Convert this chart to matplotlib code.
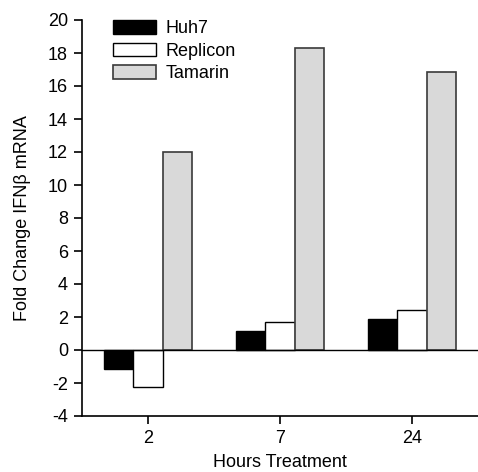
import matplotlib
matplotlib.use("Agg")
import matplotlib.pyplot as plt
import numpy as np

# Data
hours = ["2", "7", "24"]
huh7 = [-1.15, 1.17, 1.86]
replicon = [-2.22, 1.70, 2.44]
tamarin = [12.0, 18.28, 16.87]
series_names = ["Huh7", "Replicon", "Tamarin"]

plt.rcParams['font.family'] = ['Liberation Sans', 'DejaVu Sans']
plt.rcParams['axes.unicode_minus'] = False

fig = plt.figure(figsize=(4.78, 4.72), dpi=100)
ax = fig.add_axes([82 / 478, 56 / 472, 396 / 478, 396 / 472])

x = np.arange(len(hours))
w = 0.22
ax.bar(x - w, huh7, w, color="black", edgecolor="black", linewidth=1, label=series_names[0])
ax.bar(x, replicon, w, color="white", edgecolor="black", linewidth=1, label=series_names[1])
ax.bar(x + w, tamarin, w, color="#d9d9d9", edgecolor="#3a3a3a", linewidth=1.2, label=series_names[2])

# zero line across the plot
ax.axhline(0, color="black", linewidth=1)

ax.set_xlim(-0.5, 2.5)
ax.set_ylim(-4, 20)
ax.set_yticks(np.arange(-4, 21, 2))
ax.set_xticks(x)
ax.set_xticklabels(hours)

for s in ["top", "right"]:
    ax.spines[s].set_visible(False)
ax.spines["left"].set_linewidth(1.2)
ax.spines["bottom"].set_linewidth(1.2)
ax.tick_params(axis="both", direction="out", length=6, width=1.2, labelsize=13, pad=4)

ax.set_ylabel("Fold Change IFN\u03b2 mRNA", fontsize=13)
ax.yaxis.set_label_coords(-0.13, 0.5)
ax.set_xlabel("Hours Treatment", fontsize=13, labelpad=5)

ax.legend(loc="upper left", bbox_to_anchor=(0.078, 1.0), frameon=False, fontsize=13,
          borderpad=0, borderaxespad=0, handlelength=2.4, handleheight=0.8,
          handletextpad=0.5, labelspacing=0.3)

fig.savefig("out.png", dpi=100)
